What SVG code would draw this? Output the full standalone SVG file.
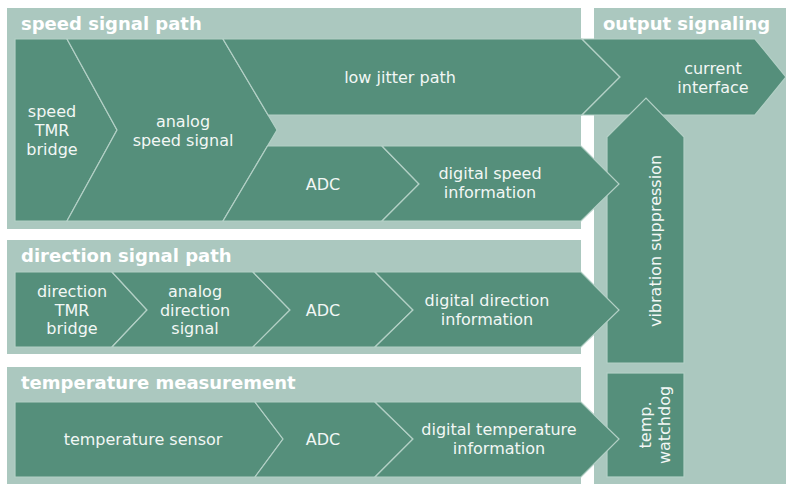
<svg xmlns="http://www.w3.org/2000/svg" width="786" height="484" viewBox="0 0 786 484">
<style>
.panel{fill:#abc8bf}
.blk{fill:#558f7b;stroke:#b3d0c6;stroke-width:1.2;stroke-linejoin:miter}
.title{font-family:"DejaVu Sans",Verdana,sans-serif;font-weight:bold;font-size:18px;fill:#ffffff}
.lbl{font-family:"DejaVu Sans",Verdana,sans-serif;font-size:16px;fill:#f2f7f5;text-anchor:middle}
</style>
<rect width="786" height="484" fill="#ffffff"/>
<g id="panels">
<rect id="panel-speed" class="panel" x="7" y="8" width="574" height="221"/>
<rect id="panel-direction" class="panel" x="7" y="240" width="574" height="114"/>
<rect id="panel-temperature" class="panel" x="7" y="367" width="574" height="117"/>
<rect id="panel-output" class="panel" x="594" y="8" width="192" height="476"/>
<text class="title" x="21" y="30">speed signal path</text>
<text class="title" x="21" y="262">direction signal path</text>
<text class="title" x="21" y="389">temperature measurement</text>
<text class="title" x="603" y="30">output signaling</text>
</g>
<g id="connectors"></g>
<g id="speed-tmr">
<polygon class="blk" points="15,39 67,39 117,130 67,221 15,221"/>
<text class="lbl" x="52" y="117">speed</text><text class="lbl" x="52" y="136">TMR</text><text class="lbl" x="52" y="155">bridge</text>
</g>
<g id="analog-speed">
<polygon class="blk" points="67,39 223,39 277,130 223,221 67,221 117,130"/>
<text class="lbl" x="183" y="127">analog</text><text class="lbl" x="183" y="146">speed signal</text>
</g>
<g id="low-jitter">
<polygon class="blk" points="223,39 582,39 620,77 582,115 268.1,115"/>
<text class="lbl" x="400" y="83">low jitter path</text>
</g>
<g id="adc-speed">
<polygon class="blk" points="267.5,146 382,146 419,184 382,221 223,221"/>
<text class="lbl" x="323" y="190">ADC</text>
</g>
<g id="current-interface">
<polygon class="blk" points="582,39 755,39 786,77 755,115 582,115 620,77"/>
<text class="lbl" x="713" y="74">current</text><text class="lbl" x="713" y="93">interface</text>
</g>
<g id="vibration-suppression">
<polygon class="blk" points="607,137 646,98 684,137 684,363 607,363"/>
<text class="lbl" transform="translate(661,241) rotate(-90)">vibration suppression</text>
</g>
<g id="temp-watchdog">
<rect class="blk" x="607" y="373" width="77" height="104"/>
<text class="lbl" transform="translate(651,425) rotate(-90)">temp.</text>
<text class="lbl" transform="translate(670,425) rotate(-90)">watchdog</text>
</g>
<g id="digital-speed">
<polygon class="blk" points="382,146 581,146 619,184 581,221 382,221 419,184"/>
<text class="lbl" x="490" y="179">digital speed</text><text class="lbl" x="490" y="198">information</text>
</g>
<g id="direction-tmr">
<polygon class="blk" points="15,272 112,272 147,310 112,347 15,347"/>
<text class="lbl" x="72" y="297">direction</text><text class="lbl" x="72" y="316">TMR</text><text class="lbl" x="72" y="334">bridge</text>
</g>
<g id="analog-direction">
<polygon class="blk" points="112,272 253,272 290,310 253,347 112,347 147,310"/>
<text class="lbl" x="195" y="297">analog</text><text class="lbl" x="195" y="316">direction</text><text class="lbl" x="195" y="334">signal</text>
</g>
<g id="adc-direction">
<polygon class="blk" points="253,272 375,272 413,310 375,347 253,347 290,310"/>
<text class="lbl" x="323" y="316">ADC</text>
</g>
<g id="digital-direction">
<polygon class="blk" points="375,272 581,272 619,310 581,347 375,347 413,310"/>
<text class="lbl" x="487" y="306">digital direction</text><text class="lbl" x="487" y="325">information</text>
</g>
<g id="temperature-sensor">
<polygon class="blk" points="15,402 255,402 283,439 255,477 15,477"/>
<text class="lbl" x="143" y="445">temperature sensor</text>
</g>
<g id="adc-temperature">
<polygon class="blk" points="255,402 375,402 413,439 375,477 255,477 283,439"/>
<text class="lbl" x="323" y="445">ADC</text>
</g>
<g id="digital-temperature">
<polygon class="blk" points="375,402 581,402 619,439 581,477 375,477 413,439"/>
<text class="lbl" x="499" y="435">digital temperature</text><text class="lbl" x="499" y="454">information</text>
</g>
</svg>
